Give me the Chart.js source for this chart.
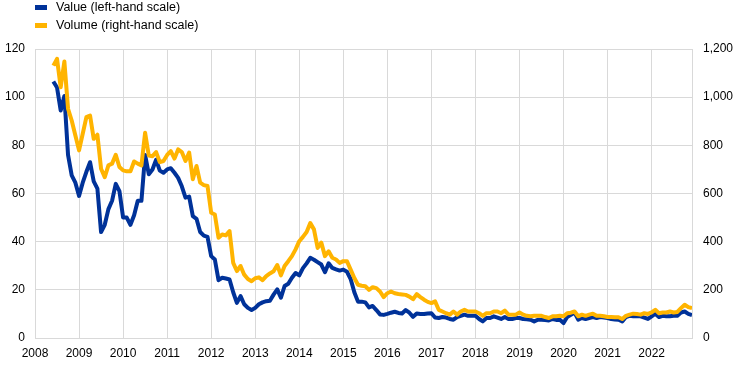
<!DOCTYPE html>
<html>
<head>
<meta charset="utf-8">
<script src="https://cdn.jsdelivr.net/npm/chart.js@4"></script>
<style>
  body { margin: 0; background: #fff; }
  #caja { position: relative; width: 744px; height: 369px; }
  .leyenda { position: absolute; left: 0; font: 12.5px Arial, "Liberation Sans", sans-serif; color: #000; line-height: 14px; }
  .leyenda span.marca { position: absolute; left: 35px; top: 5px; width: 12px; height: 5px; }
  .leyenda span.texto { position: absolute; left: 56px; top: 0; white-space: nowrap; }
</style>
</head>
<body>
<div id="caja">
  <canvas id="grafico"></canvas>
  <div class="leyenda" style="top:0px"><span class="marca" style="background:#003299"></span><span class="texto">Value (left-hand scale)</span></div>
  <div class="leyenda" style="top:18px"><span class="marca" style="background:#ffb400"></span><span class="texto">Volume (right-hand scale)</span></div>
</div>
<script>
// monthly, June 2008 - December 2022
const firstYear = 2008;
const firstMonth = 5; // June

const value = [
  106.5, 104, 94.5, 100.5, 76, 67.5, 64.5,
  59, 64.5, 69, 73, 65, 62, 44, 47, 53.5, 57, 64, 61,
  50, 50, 47, 51, 57, 57, 76, 68, 70, 74, 69.5, 68.6,
  70, 70.5, 68.6, 66.5, 63, 58.3, 58.7, 50.6, 49.5, 44, 42.5, 42,
  34, 32.6, 24, 25, 24.7, 24.3, 19, 14.6, 17.4, 14, 12.5, 11.6,
  12.5, 14, 14.8, 15.3, 15.5, 18, 20.2, 16.7, 21.6, 22.5, 25, 27,
  26, 29, 31, 33.3, 32.5, 31.5, 30.5, 27.3, 31, 29.1, 28.5, 28,
  28.4, 27.5, 24.5, 19, 15.1, 15.1, 14.8, 12.7, 13.3, 11.6, 9.8, 9.6,
  10, 10.5, 10.9, 10.4, 10.2, 11.6, 10.5, 8.8, 10.2, 10, 10, 10.2,
  10.3, 8.5, 8.3, 8.7, 8.5, 7.9, 7.6, 8.7, 9.2, 9.7, 9.2, 9.2,
  9.2, 7.9, 6.9, 8.3, 8.3, 9, 8.5, 7.9, 8.7, 7.9, 7.9, 8.3,
  8.3, 7.9, 7.8, 7.6, 6.9, 7.6, 7.6, 7.5, 7.3, 7.9, 7.5, 7.6,
  6.2, 8.7, 9.6, 10.6, 7.6, 8.3, 7.9, 8.3, 8.7, 8.3, 8.7, 8.5,
  8.3, 7.9, 7.7, 7.6, 6.9, 8.7, 9.2, 9, 9, 9, 8.5, 7.9,
  9, 10.1, 8.7, 9.2, 9, 9, 9.2, 9.2, 10.6, 11, 10, 9.5
];

const volume = [
  1131, 1159, 1041, 1148, 952, 903, 841,
  779, 848, 917, 924, 827, 844, 703, 668, 717, 724, 761, 710,
  696, 692, 692, 733, 724, 717, 852, 758, 755, 772, 730, 735,
  760, 776, 745, 783, 772, 735, 770, 659, 714, 645, 635, 631,
  520, 513, 416, 430, 426, 444, 312, 278, 299, 263, 245, 236,
  248, 252, 240, 257, 268, 277, 303, 260, 299, 319, 340, 368,
  402, 420, 440, 477, 451, 374, 396, 340, 360, 333, 326, 312,
  319, 319, 284, 249, 221, 217, 215, 200, 211, 207, 193, 170,
  186, 193, 186, 183, 181, 179, 172, 161, 182, 170, 159, 150,
  145, 152, 117, 110, 103, 97, 110, 97, 110, 117, 110, 110,
  110, 103, 92, 103, 103, 110, 110, 103, 114, 97, 97, 97,
  106, 97, 92, 90, 92, 92, 92, 87, 83, 90, 90, 92,
  90, 103, 105, 110, 90, 97, 92, 97, 101, 92, 92, 90,
  87, 87, 86, 86, 79, 92, 97, 101, 100, 97, 103, 100,
  106, 117, 103, 106, 106, 110, 106, 108, 124, 138, 128, 124
];

const months = value.map((v, i) => firstYear + (firstMonth + i) / 12);
const lastMonth = months[months.length - 1];

const gris = '#d9d9d9';
Chart.defaults.font.family = 'Arial, "Liberation Sans", sans-serif';
Chart.defaults.font.size = 12;
Chart.defaults.color = '#000';

new Chart(document.getElementById('grafico'), {
  type: 'line',
  data: {
    datasets: [
      {
        label: 'Value (left-hand scale)',
        data: value.map((v, i) => ({ x: months[i], y: v })),
        borderColor: '#003299',
        yAxisID: 'izq',
        order: 1
      },
      {
        label: 'Volume (right-hand scale)',
        data: volume.map((v, i) => ({ x: months[i], y: v })),
        borderColor: '#ffb400',
        yAxisID: 'der',
        order: 0
      }
    ]
  },
  options: {
    responsive: true,
    maintainAspectRatio: false,
    animation: false,
    layout: { padding: { top: 49, left: 0, right: 0, bottom: 0 } },
    elements: {
      point: { radius: 0 },
      line: { borderWidth: 4, tension: 0, borderJoinStyle: 'round', fill: false }
    },
    plugins: { legend: { display: false }, tooltip: { enabled: false } },
    scales: {
      x: {
        type: 'linear',
        min: firstYear,
        max: lastMonth,
        afterFit: s => { s.height = 31; },
        grid: { color: gris, drawTicks: false },
        border: { color: gris },
        ticks: {
          stepSize: 1,
          includeBounds: false,
          autoSkip: false,
          maxRotation: 0,
          padding: 8,
          callback: v => String(Math.round(v))
        }
      },
      izq: {
        position: 'left',
        min: 0,
        max: 120,
        afterFit: s => { s.width = 35; },
        grid: { color: gris, drawTicks: false },
        border: { color: gris },
        ticks: { stepSize: 20, padding: 10 }
      },
      der: {
        position: 'right',
        min: 0,
        max: 1200,
        afterFit: s => { s.width = 52; },
        grid: { display: false, drawTicks: false },
        border: { color: gris },
        ticks: { stepSize: 200, padding: 11, callback: v => v.toLocaleString('en-US') }
      }
    }
  }
});
</script>
</body>
</html>
